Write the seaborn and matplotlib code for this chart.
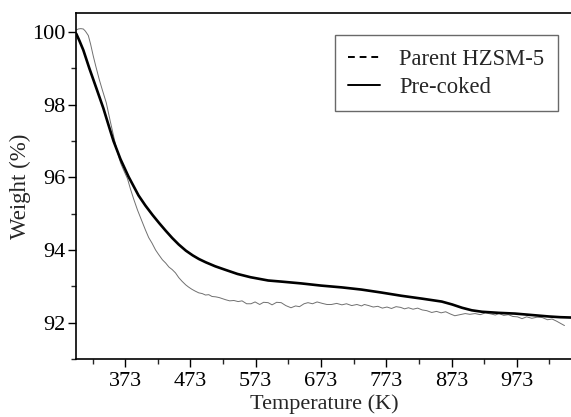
import numpy as np
import pandas as pd
import seaborn as sns
import matplotlib
matplotlib.use("Agg")
import matplotlib.pyplot as plt
from matplotlib.lines import Line2D
from matplotlib.ticker import MultipleLocator, FixedLocator

# TGA weight-loss curves
precoked_T = [298, 303, 308.8, 318, 328.8, 339.5, 347.2, 355, 365.7, 378, 393.4, 404, 415,
              425, 435, 445, 455, 466, 476.5, 486, 496.5, 511, 527, 545, 565, 592, 612,
              642.6, 673, 705, 735, 765, 796, 828, 858, 874, 889, 904, 919.5, 945, 970, 996,
              1022, 1040, 1058]
precoked_W = [99.95, 99.75, 99.50, 99.00, 98.45, 97.90, 97.45, 97.00, 96.50, 96.02, 95.50,
              95.22, 94.96, 94.74, 94.53, 94.33, 94.15, 93.98, 93.85, 93.75, 93.66, 93.55,
              93.45, 93.34, 93.25, 93.16, 93.13, 93.08, 93.02, 92.97, 92.91, 92.83, 92.74,
              92.66, 92.58, 92.50, 92.41, 92.34, 92.30, 92.27, 92.25, 92.21, 92.17, 92.15,
              92.14]

parent_T = [298, 301, 305, 308.8, 312, 316.5, 320, 324, 328, 333.4, 338, 344, 350, 356.5,
            361, 366, 370, 376.5, 381, 386, 391.8, 398, 404, 409, 414, 419.5, 424, 430, 435,
            440, 445, 450, 455, 460, 465.7, 470, 475, 480, 485.7, 491, 496, 501, 506, 511.8,
            517, 522, 527, 533, 539.5, 546, 552, 559, 565.7, 572, 579, 585, 592, 598, 605,
            612, 619, 627, 634, 640, 647, 653, 660, 667, 675, 682, 689, 697, 705, 712, 720,
            728, 735, 739.5, 746, 753, 760, 767, 774, 781, 788, 795, 801, 807, 814, 821, 828,
            835, 842.6, 850, 857, 864, 871, 878, 886, 894, 901, 909, 917, 925, 933, 940,
            945.7, 953, 960, 967, 974, 981, 988, 996, 1004, 1012, 1020, 1027, 1034, 1040,
            1046]
parent_W = [100.05, 100.08, 100.09, 100.08, 100.02, 99.90, 99.66, 99.34, 99.05, 98.68,
            98.40, 98.05, 97.55, 97.03, 96.70, 96.39, 96.22, 95.96, 95.68, 95.40, 95.10,
            94.82, 94.55, 94.34, 94.19, 94.00, 93.88, 93.73, 93.64, 93.53, 93.46, 93.37,
            93.24, 93.14, 93.04, 92.98, 92.92, 92.87, 92.82, 92.80, 92.76, 92.77, 92.72,
            92.71, 92.69, 92.66, 92.63, 92.60, 92.61, 92.58, 92.60, 92.52, 92.52, 92.57,
            92.50, 92.56, 92.55, 92.49, 92.56, 92.55, 92.47, 92.41, 92.46, 92.44, 92.52,
            92.55, 92.52, 92.57, 92.53, 92.50, 92.50, 92.53, 92.49, 92.52, 92.47, 92.50,
            92.46, 92.50, 92.47, 92.43, 92.45, 92.40, 92.43, 92.39, 92.44, 92.42, 92.38,
            92.41, 92.37, 92.40, 92.35, 92.33, 92.28, 92.31, 92.27, 92.30, 92.24, 92.19,
            92.22, 92.25, 92.23, 92.25, 92.22, 92.27, 92.24, 92.21, 92.25, 92.20, 92.22,
            92.17, 92.16, 92.11, 92.16, 92.12, 92.15, 92.14, 92.08, 92.10, 92.04, 91.98,
            91.92]

x_ticks = [373, 473, 573, 673, 773, 873, 973]
y_ticks = [92, 94, 96, 98, 100]
labels = ["Parent HZSM-5", "Pre-coked"]

sns.set_theme(style="ticks")
plt.rcParams["font.family"] = ["Liberation Serif", "DejaVu Serif"]

fig = plt.figure(figsize=(5.71, 4.17), dpi=100)
ax = fig.add_axes([76 / 571, 1 - 359 / 417, 1 - 76 / 571 + 0.004, (359 - 13) / 417])

parent = pd.DataFrame({"T": parent_T, "W": parent_W})
pre = pd.DataFrame({"T": precoked_T, "W": precoked_W})
sns.lineplot(data=parent, x="T", y="W", ax=ax, color="#707070", linewidth=0.7,
             sort=False, estimator=None)
sns.lineplot(data=pre, x="T", y="W", ax=ax, color="black", linewidth=1.9,
             sort=False, estimator=None)

ax.set_xlim(297.6, 1059.5)
ax.set_ylim(91.0, 100.52)
ax.xaxis.set_major_locator(FixedLocator(x_ticks))
ax.xaxis.set_minor_locator(FixedLocator([t + 50 for t in range(273, 1074, 100)]))
ax.yaxis.set_major_locator(FixedLocator(y_ticks))
ax.yaxis.set_minor_locator(MultipleLocator(1))
ax.tick_params(which="major", direction="out", length=6, width=1.0, labelsize=16,
               colors="black")
ax.tick_params(axis="y", which="major", pad=1.5)
ax.tick_params(axis="x", which="major", pad=3)
ax.tick_params(which="minor", direction="out", length=3.5, width=1.0)
ax.spines["right"].set_visible(False)
for s in ("left", "bottom", "top"):
    ax.spines[s].set_linewidth(1.2)
    ax.spines[s].set_color("black")

ax.set_xlabel("Temperature (K)", fontsize=16, labelpad=3)
ax.set_ylabel("Weight (%)", fontsize=16.5, labelpad=1)

handles = [Line2D([], [], color="black", linestyle=(0, (3.5, 2.5)), linewidth=1.4),
           Line2D([], [], color="black", linestyle="-", linewidth=1.4)]
leg = ax.legend(handles, labels, loc="upper right", bbox_to_anchor=(0.969, 0.936),
                borderaxespad=0, fontsize=16.3, frameon=True, fancybox=False,
                handlelength=1.4, handletextpad=0.85, borderpad=0.6, labelspacing=0.3)
leg.get_frame().set_edgecolor("#444444")
leg.get_frame().set_linewidth(1.0)

fig.savefig("out.png", dpi=100)
